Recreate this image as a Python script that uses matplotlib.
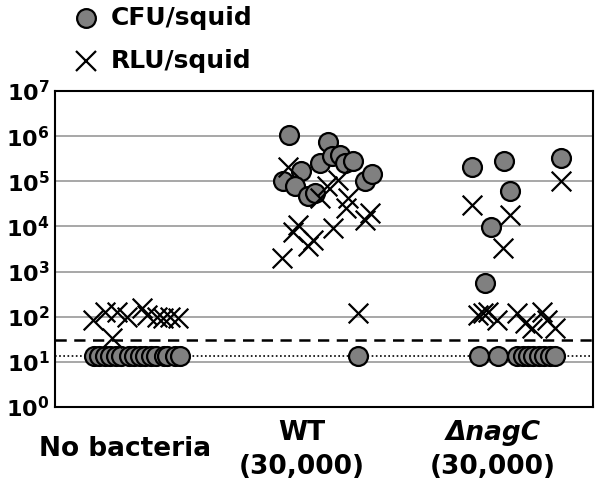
import matplotlib
matplotlib.use("Agg")
import matplotlib.pyplot as plt
from matplotlib.lines import Line2D
import matplotlib.transforms as mtransforms

plt.rcParams['font.family'] = ['DejaVu Sans']
plt.rcParams['mathtext.fontset'] = 'dejavusans'

# ---- data ----
nb_cfu_x = [-0.17, -0.14, -0.11, -0.08, -0.05, -0.02, 0.02, 0.05, 0.08, 0.11, 0.14, 0.17, 0.21, 0.23, 0.27, 0.30]
nb_cfu_y = [13.5] * 16
nb_rlu_x = [-0.174, -0.109, -0.071, -0.043, 0.011, 0.092, 0.120, 0.174, 0.207, 0.245, 0.288]
nb_rlu_y = [85, 128, 34, 128, 100, 157, 110, 100, 94, 100, 94]

wt_cfu_x = [0.893, 1.102, 0.957, 1.060, 1.123, 1.168, 1.196, 1.237, 0.857, 0.924, 0.996, 1.033, 1.304, 1.341, 1.268]
wt_cfu_y = [1.05e6, 7.6e5, 1.7e5, 2.6e5, 3.7e5, 3.9e5, 2.6e5, 2.8e5, 1.0e5, 8e4, 4.8e4, 5.5e4, 1.0e5, 1.45e5, 13.5]
wt_rlu_x = [0.888, 1.096, 1.159, 1.060, 1.214, 1.201, 1.332, 1.304, 0.942, 0.915, 1.023, 0.996, 1.132, 0.852, 1.268]
wt_rlu_y = [2.1e5, 8e4, 1.07e5, 4.3e4, 4.2e4, 2.6e4, 2e4, 1.4e4, 1.08e4, 7.7e3, 5e3, 3.6e3, 9.2e3, 2e3, 120]

nag_cfu_x = [1.887, 2.060, 2.370, 2.092, 1.989, 1.957, 1.926, 2.029,
             2.130, 2.160, 2.189, 2.219, 2.248, 2.278, 2.307, 2.337]
nag_cfu_y = [2.05e5, 2.75e5, 3.2e5, 6.2e4, 9.5e3, 550, 13.5, 13.5,
             13.5, 13.5, 13.5, 13.5, 13.5, 13.5, 13.5, 13.5]
nag_rlu_x = [2.368, 1.884, 2.092, 2.056, 1.920, 1.946, 1.974, 2.020, 2.129, 2.174, 2.210, 2.265, 2.292, 2.337]
nag_rlu_y = [1e5, 3e4, 1.8e4, 3.3e3, 110, 120, 130, 85, 120, 72, 56, 130, 85, 56]

group_pos = [0.0, 0.962, 2.0]
group_labels = [["No bacteria"], ["WT", "(30,000)"], ["ΔnagC", "(30,000)"]]
dashed_level = 30
dotted_level = 13.5
ytick_vals = [1e0, 1e1, 1e2, 1e3, 1e4, 1e5, 1e6, 1e7]
ytick_labels = [r'$\mathbf{10^{%d}}$' % i for i in range(8)]

W, H = 602, 487
fig = plt.figure(figsize=(W / 100, H / 100), dpi=100)
ax = fig.add_axes([55 / W, 1 - 407 / H, 538 / W, 316 / H])
ax.set_yscale('log')
ax.set_ylim(1, 1e7)
ax.set_xlim(-0.380, 2.543)

for v in ytick_vals[1:-1]:
    ax.axhline(v, color='#a0a0a0', lw=1.3, zorder=1)
ax.axhline(dashed_level, color='black', lw=1.8, ls=(0, (4.5, 3)), zorder=2)
ax.axhline(dotted_level, color='black', lw=1.2, ls=(0, (1, 1.5)), zorder=2)

circ = dict(s=185, c='#808080', edgecolors='black', linewidths=1.6, zorder=3)
cross = dict(s=200, c='black', marker='x', linewidths=1.6, zorder=4)
for xs, ys in [(nb_cfu_x, nb_cfu_y), (wt_cfu_x, wt_cfu_y), (nag_cfu_x, nag_cfu_y)]:
    ax.scatter(xs, ys, **circ)
for xs, ys in [(nb_rlu_x, nb_rlu_y), (wt_rlu_x, wt_rlu_y), (nag_rlu_x, nag_rlu_y)]:
    ax.scatter(xs, ys, **cross)

ax.set_yticks(ytick_vals)
ax.set_yticklabels(ytick_labels, fontsize=16)
ax.yaxis.set_minor_locator(matplotlib.ticker.NullLocator())
ax.tick_params(axis='y', length=0, pad=4)
ax.set_xticks([])
for s in ax.spines.values():
    s.set_linewidth(1.5)
    s.set_color('black')

trans = mtransforms.blended_transform_factory(ax.transData, fig.transFigure)
fs = 19
ax.text(group_pos[0], 1 - 449 / H, group_labels[0][0], transform=trans, ha='center', va='center',
        fontsize=fs, fontweight='bold')
ax.text(group_pos[1], 1 - 433 / H, group_labels[1][0], transform=trans, ha='center', va='center',
        fontsize=fs, fontweight='bold')
ax.text(group_pos[1], 1 - 467 / H, group_labels[1][1], transform=trans, ha='center', va='center',
        fontsize=fs, fontweight='bold')
ax.text(group_pos[2], 1 - 433 / H, group_labels[2][0], transform=trans, ha='center', va='center',
        fontsize=fs, fontweight='bold', style='italic')
ax.text(group_pos[2], 1 - 467 / H, group_labels[2][1], transform=trans, ha='center', va='center',
        fontsize=fs, fontweight='bold')

# legend
leg_labels = ["CFU/squid", "RLU/squid"]
fig.add_artist(Line2D([85.7 / W], [1 - 18 / H], transform=fig.transFigure, marker='o', ms=13.5,
                      mfc='#808080', mec='black', mew=1.6, ls='none'))
fig.add_artist(Line2D([85.7 / W], [1 - 61 / H], transform=fig.transFigure, marker='x', ms=14,
                      mec='black', mew=1.6, ls='none'))
fig.text(111 / W, 1 - 18 / H, leg_labels[0], fontsize=18, fontweight='bold', va='center', ha='left')
fig.text(111 / W, 1 - 61 / H, leg_labels[1], fontsize=18, fontweight='bold', va='center', ha='left')

fig.savefig('out.png', dpi=100)
